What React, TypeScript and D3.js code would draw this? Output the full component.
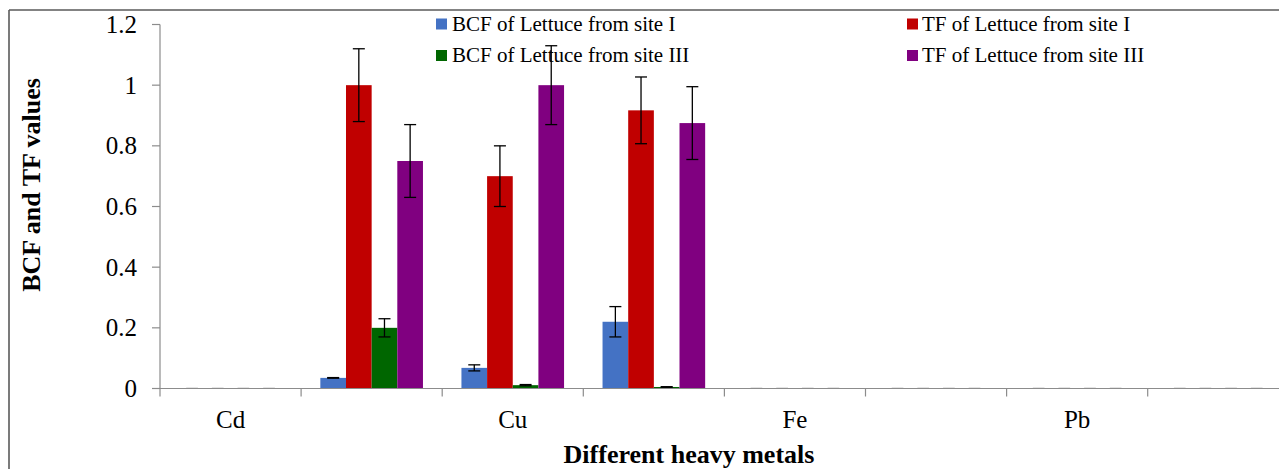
import React from "react";
import * as d3 from "d3";

const categories = ["Cd", "", "Cu", "", "Fe", "", "Pb", ""];
const seriesNames = [
  "BCF of Lettuce from site I",
  "TF of Lettuce from site I",
  "BCF of Lettuce from site III",
  "TF of Lettuce from site III",
];
const seriesColors = ["#4472C4", "#C00000", "#006600", "#800080"];

const bcfSite1 = [0, 0.035, 0.068, 0.22, 0, 0, 0, 0];
const tfSite1 = [0, 1.0, 0.7, 0.917, 0, 0, 0, 0];
const bcfSite3 = [0, 0.2, 0.011, 0.005, 0, 0, 0, 0];
const tfSite3 = [0, 0.75, 1.0, 0.875, 0, 0, 0, 0];

const bcfSite1Err = [0, 0.001, 0.01, 0.05, 0, 0, 0, 0];
const tfSite1Err = [0, 0.12, 0.1, 0.11, 0, 0, 0, 0];
const bcfSite3Err = [0, 0.03, 0.002, 0.001, 0, 0, 0, 0];
const tfSite3Err = [0, 0.12, 0.13, 0.12, 0, 0, 0, 0];

const yTicks = [0, 0.2, 0.4, 0.6, 0.8, 1, 1.2];

const values = [bcfSite1, tfSite1, bcfSite3, tfSite3];
const errors = [bcfSite1Err, tfSite1Err, bcfSite3Err, tfSite3Err];

const W = 1279;
const H = 469;
const plotLeft = 160;
const slotW = 141.1;
const plotTop = 24.5;
const plotBottom = 388.5;
const font = "'Liberation Serif', 'Times New Roman', serif";
const axisColor = "#8c8c8c";

export default function App() {
  const x = d3
    .scaleBand<number>()
    .domain(categories.map((_, i) => i))
    .range([plotLeft, plotLeft + slotW * categories.length])
    .paddingInner(0)
    .paddingOuter(0);
  const xs = d3
    .scaleBand<number>()
    .domain(seriesNames.map((_, i) => i))
    .range([0, x.bandwidth()])
    .paddingInner(0)
    .paddingOuter(0.75);
  const y = d3.scaleLinear().domain([0, 1.2]).range([plotBottom, plotTop]);
  const fmt = (v: number) => (v === 0 ? "0" : d3.format("~g")(v));

  const legendPos = [
    { sx: 436, tx: 452, y: 24 },
    { sx: 907, tx: 922, y: 24 },
    { sx: 436, tx: 452, y: 55.5 },
    { sx: 907, tx: 922, y: 55.5 },
  ];

  return (
    <svg
      width={W}
      height={H}
      style={{ position: "absolute", left: 0, top: 0, background: "#fff" }}
      fontFamily={font}
    >
      {/* outer chart border */}
      <line x1={9} y1={10} x2={W + 10} y2={10} stroke="#5a5a5a" strokeWidth={1.6} />
      <line x1={9} y1={10} x2={9} y2={H + 10} stroke="#5a5a5a" strokeWidth={1.6} />

      {/* y axis */}
      <line x1={plotLeft} y1={plotTop} x2={plotLeft} y2={plotBottom} stroke={axisColor} strokeWidth={1.2} />
      {yTicks.map((t) => (
        <g key={t}>
          <line x1={plotLeft - 8} x2={plotLeft} y1={y(t)} y2={y(t)} stroke={axisColor} strokeWidth={1.2} />
          <text x={137} y={y(t)} dy="0.34em" textAnchor="end" fontSize={25} fill="#000">
            {fmt(t)}
          </text>
        </g>
      ))}

      {/* faint zero-value bars */}
      {values.map((arr, s) =>
        arr.map((v, i) =>
          v === 0 ? (
            <line
              key={`z${s}-${i}`}
              x1={(x(i) as number) + (xs(s) as number) + 7}
              x2={(x(i) as number) + (xs(s) as number) + xs.bandwidth() - 7}
              y1={y(0) - 1}
              y2={y(0) - 1}
              stroke="#e4e4e4"
              strokeWidth={1}
            />
          ) : null
        )
      )}

      {/* bars */}
      {values.map((arr, s) =>
        arr.map((v, i) =>
          v > 0 ? (
            <rect
              key={`b${s}-${i}`}
              x={(x(i) as number) + (xs(s) as number)}
              y={y(v)}
              width={xs.bandwidth()}
              height={y(0) - y(v)}
              fill={seriesColors[s]}
            />
          ) : null
        )
      )}

      {/* x axis */}
      <line x1={plotLeft} y1={plotBottom} x2={W + 20} y2={plotBottom} stroke={axisColor} strokeWidth={1.2} />
      {d3.range(categories.length + 1).map((i) => (
        <line
          key={`xt${i}`}
          x1={plotLeft + i * x.step()}
          x2={plotLeft + i * x.step()}
          y1={plotBottom}
          y2={plotBottom + 8}
          stroke={axisColor}
          strokeWidth={1.2}
        />
      ))}
      {categories.map((c, i) =>
        c ? (
          <text
            key={`xl${i}`}
            x={(x(i) as number) + x.bandwidth() / 2}
            y={428}
            textAnchor="middle"
            fontSize={25}
            fill="#000"
          >
            {c}
          </text>
        ) : null
      )}

      {/* error bars */}
      {values.map((arr, s) =>
        arr.map((v, i) => {
          if (v <= 0) return null;
          const e = errors[s][i];
          const cx = (x(i) as number) + (xs(s) as number) + xs.bandwidth() / 2;
          const y1 = y(v + e);
          const y2 = y(Math.max(0, v - e));
          return (
            <g key={`e${s}-${i}`} stroke="#000" strokeWidth={1.3}>
              <line x1={cx} x2={cx} y1={y1} y2={y2} />
              <line x1={cx - 6} x2={cx + 6} y1={y1} y2={y1} />
              <line x1={cx - 6} x2={cx + 6} y1={y2} y2={y2} />
            </g>
          );
        })
      )}

      {/* axis titles */}
      <text
        transform={`translate(40,185) rotate(-90)`}
        textAnchor="middle"
        fontSize={26}
        fontWeight="bold"
        fill="#000"
      >
        BCF and TF values
      </text>
      <text x={689} y={463} textAnchor="middle" fontSize={26} fontWeight="bold" fill="#000">
        Different heavy metals
      </text>

      {/* legend */}
      {seriesNames.map((n, s) => (
        <g key={`lg${s}`}>
          <rect
            x={legendPos[s].sx}
            y={legendPos[s].y - 5.5}
            width={11}
            height={11}
            fill={seriesColors[s]}
          />
          <text x={legendPos[s].tx} y={legendPos[s].y} dy="0.33em" fontSize={21} fill="#000">
            {n}
          </text>
        </g>
      ))}
    </svg>
  );
}
